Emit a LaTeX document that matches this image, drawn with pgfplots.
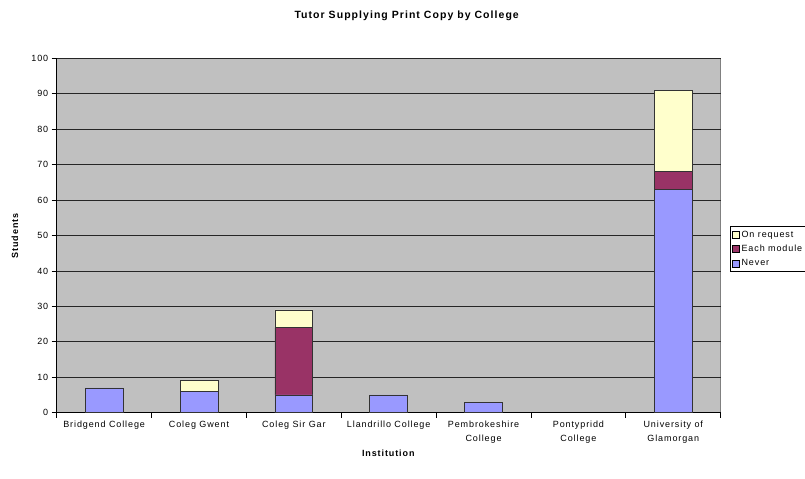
\documentclass[border=0pt]{standalone}
\usepackage{pgfplots}
\pgfplotsset{compat=1.18}
\usepackage{fontspec}
\setmainfont{Liberation Sans}
\newfontfamily\spaced[LetterSpace=10]{Liberation Sans}

\definecolor{plotbg}{HTML}{C0C0C0}
\definecolor{never}{HTML}{9999FF}
\definecolor{eachmod}{HTML}{993366}
\definecolor{onreq}{HTML}{FFFFCC}

\begin{document}
\begin{tikzpicture}
\useasboundingbox (0,0) rectangle (805bp,479bp);
\begin{axis}[
    at={(56.7bp,66.3bp)}, anchor=south west,
    scale only axis, width=664bp, height=354.4bp,
    ybar stacked, bar width=0.4,
    xmin=-0.5, xmax=6.5, ymin=0, ymax=100,
    axis lines=left, axis line style={-, black, line width=0.8bp},
    axis background/.style={fill=plotbg, draw=black!50, line width=1bp},
    xtick={-0.5,0.5,...,6.5},
    x tick label as interval,
    xticklabels={Bridgend College, Coleg Gwent, Coleg Sir Gar, Llandrillo College,
        Pembrokeshire\\College, Pontypridd\\College, University of\\Glamorgan},
    ytick={0,10,...,100},
    tick align=outside, major tick length=5bp,
    tick style={black, line width=0.8bp},
    ymajorgrids, grid style={black!85, line width=0.8bp},
    /pgf/number format/assume math mode=true,
    x tick label style={align=center, font=\spaced\fontsize{9bp}{13.5bp}\selectfont},
    y tick label style={font=\spaced\fontsize{9bp}{10bp}\selectfont},
    xlabel={\textbf{Institution}},
    ylabel={\textbf{Students}},
    every axis x label/.style={at={(axis description cs:0.5,0)}, yshift=-41bp, anchor=center,
        font=\spaced\fontsize{9bp}{10bp}\selectfont},
    every axis y label/.style={at={(axis description cs:0,0.5)}, xshift=-41.7bp, rotate=90, anchor=center,
        font=\spaced\fontsize{9bp}{10bp}\selectfont},
    title={\textbf{Tutor Supplying Print Copy by College}},
    every axis title/.style={at={(axis description cs:0.5,1)}, xshift=18.5bp, yshift=42.3bp, anchor=center,
        font=\spaced\fontsize{10.5bp}{12bp}\selectfont},
    reverse legend,
    legend style={at={(1,0.462)}, anchor=west, xshift=9bp, draw=black, fill=white,
        font=\spaced\fontsize{9bp}{10bp}\selectfont, row sep=2.5bp, inner sep=2bp,
        line width=0.6bp},
    legend cell align=left,
    legend image code/.code={\draw[#1, draw=black, line width=0.6bp] (0bp,-3.5bp) rectangle (7bp,3.5bp);},
]
\addplot[fill=never, draw=black!80, line width=0.7bp] coordinates
    {(0,7) (1,6) (2,5) (3,5) (4,3) (5,0) (6,63)};
\addplot[fill=eachmod, draw=black!80, line width=0.7bp] coordinates
    {(0,0) (1,0) (2,19) (3,0) (4,0) (5,0) (6,5)};
\addplot[fill=onreq, draw=black!80, line width=0.7bp] coordinates
    {(0,0) (1,3) (2,5) (3,0) (4,0) (5,0) (6,23)};
\legend{Never, Each module, On request}
\end{axis}
\end{tikzpicture}
\end{document}
